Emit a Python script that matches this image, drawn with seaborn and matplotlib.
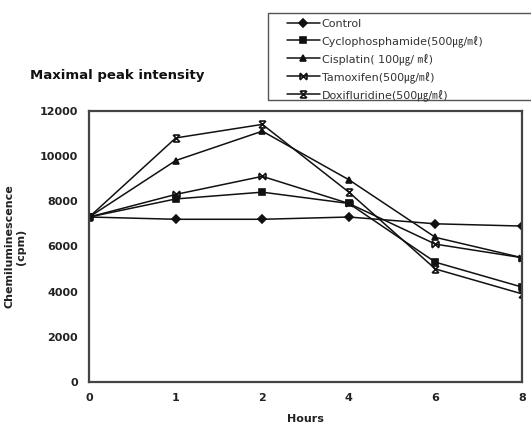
import numpy as np
import pandas as pd
import matplotlib
matplotlib.use("Agg")
import matplotlib.pyplot as plt
from matplotlib.path import Path
from matplotlib.patches import Rectangle
import seaborn as sns

hours = ["0", "1", "2", "4", "6", "8"]
control = [7300, 7200, 7200, 7300, 7000, 6900]
cyclophosphamide = [7300, 8100, 8400, 7900, 5300, 4200]
cisplatin = [7300, 9800, 11100, 8950, 6400, 5500]
tamoxifen = [7300, 8300, 9100, 7900, 6100, 5500]
doxifluridine = [7300, 10800, 11400, 8400, 5000, 3900]

labels = [
    "Control",
    "Cyclophosphamide(500㎍/㎖)",
    "Cisplatin( 100㎍/ ㎖)",
    "Tamoxifen(500㎍/㎖)",
    "Doxifluridine(500㎍/㎖)",
]
series = [control, cyclophosphamide, cisplatin, tamoxifen, doxifluridine]

rows = []
for lab, vals in zip(labels, series):
    for i, v in enumerate(vals):
        rows.append({"pos": i, "value": v, "series": lab})
df = pd.DataFrame(rows)

sns.set_style("white")
plt.rcParams["font.family"] = ["DejaVu Sans", "Noto Sans CJK KR"]

# X with vertical bars (bowtie) and X with horizontal bars (hourglass), strokes only
M, L = Path.MOVETO, Path.LINETO
bowtie = Path([(-1, -1), (1, 1), (-1, 1), (1, -1), (-1, -0.8), (-1, 0.8), (1, -0.8), (1, 0.8)],
              [M, L, M, L, M, L, M, L])
hourglass = Path([(-1, -1), (1, 1), (-1, 1), (1, -1), (-0.8, -1), (0.8, -1), (-0.8, 1), (0.8, 1)],
                 [M, L, M, L, M, L, M, L])

markers = {labels[0]: "D", labels[1]: "s", labels[2]: "^",
           labels[3]: bowtie, labels[4]: hourglass}
sizes = {labels[0]: 4, labels[1]: 4.5, labels[2]: 4.5, labels[3]: 5, labels[4]: 5}

fig = plt.figure(figsize=(5.31, 4.23), dpi=100)
ax = fig.add_axes([0.168, 0.097, 0.815, 0.641])

for lab in labels:
    sub = df[df["series"] == lab]
    filled = not isinstance(markers[lab], Path)
    sns.lineplot(data=sub, x="pos", y="value", ax=ax, color="#111111", lw=1.1,
                 marker=markers[lab], markersize=sizes[lab], markeredgewidth=1.2,
                 markerfacecolor="#111111" if filled else "none",
                 markeredgecolor="#111111", label=lab, legend=False)

ax.set_xlim(0, 5)
ax.set_ylim(0, 12000)
ax.set_xticks(range(len(hours)))
ax.set_xticklabels(hours)
ax.set_yticks(range(0, 12001, 2000))
for s in ax.spines.values():
    s.set_color("#444444")
    s.set_linewidth(1.6)
ax.tick_params(axis="both", direction="in", length=3, width=1, colors="#666666",
               labelcolor="#222222", labelsize=8, pad=8)
ax.tick_params(axis="y", length=0)
for t in ax.get_xticklabels() + ax.get_yticklabels():
    t.set_fontweight("bold")

ax.set_xlabel("Hours", fontsize=8, fontweight="bold", color="#222222", labelpad=8)
ax.set_ylabel("Chemiluminescence\n(cpm)", fontsize=8, fontweight="bold",
              color="#222222", labelpad=10)

fig.text(0.057, 0.822, "Maximal peak intensity", fontsize=9.5, fontweight="bold",
         color="#111111", ha="left", va="center")

# legend box runs off the right edge of the figure, as in the scan
fig.patches.append(Rectangle((0.505, 0.764), 0.52, 0.206, transform=fig.transFigure,
                             fill=False, edgecolor="#555555", lw=1.0))
handles = ax.get_lines()[:len(labels)]
leg = fig.legend(handles, labels, loc="upper left", bbox_to_anchor=(0.54, 0.955),
                 frameon=False, fontsize=8, handlelength=3.0,
                 handletextpad=0.15, labelspacing=0.55, borderpad=0,
                 borderaxespad=0)
for t in leg.get_texts():
    t.set_color("#333333")

fig.savefig("out.png", dpi=100)
